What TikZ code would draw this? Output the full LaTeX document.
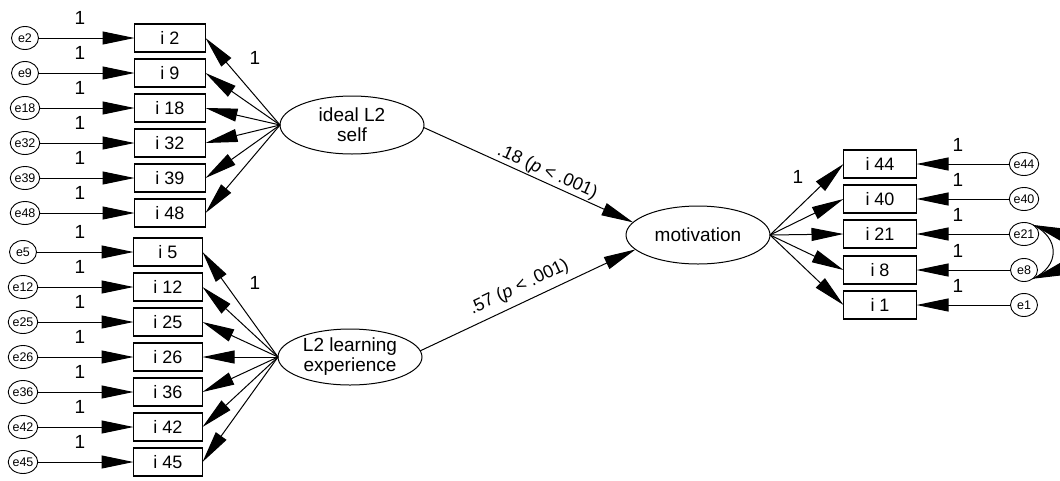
\documentclass[tikz,border=0pt]{standalone}
\usepackage{fontspec}
\setmainfont{Liberation Sans}
\usetikzlibrary{shapes.geometric,arrows.meta,calc}
\begin{document}
\begin{tikzpicture}[x=1pt,y=-1pt,
  every node/.style={inner sep=0pt, outer sep=0pt},
  obs/.style={draw, line width=1.1pt, rectangle, minimum width=71pt, minimum height=28pt,
    font=\fontsize{18}{20}\selectfont},
  lat/.style={draw, line width=1pt, ellipse, minimum width=144pt, minimum height=58pt,
    align=center, font=\fontsize{19}{20}\selectfont},
  err/.style={draw, line width=0.9pt, ellipse, minimum width=27pt, minimum height=23pt,
    font=\fontsize{12.5}{13}\selectfont},
  tip/.tip={Triangle[length=32pt,width=13pt]},
  arr/.style={-tip, line width=1pt},
  one/.style={font=\fontsize{19}{20}\selectfont},
  coef/.style={font=\fontsize{18}{20}\selectfont, sloped, above=2pt}
]
\useasboundingbox (0,0) rectangle (1060,480);

% latent variables
\node[lat] (ideal) at (352,125) {ideal L2\\self};
\node[lat, minimum height=56pt] (learn) at (350,357) {L2 learning\\experience};
\node[lat] (motiv) at (698,235) {motivation};

% ideal L2 self indicators
\foreach \n/\y in {2/38, 9/73, 18/108, 32/143, 39/178, 48/213} {
  \node[obs] (i\n) at (170,\y) {i \n};
  \node[err] (e\n) at (25,\y) {e\n};
  \node[one] (w\n) at (80,{\y-20}) {1};
  \draw[arr] (e\n) -- (i\n);
  \draw[arr] (ideal.west) -- (i\n.east);
}
\node[one] (wideal) at (255,58) {1};

% L2 learning experience indicators
\foreach \n/\y in {5/252, 12/287, 25/322, 26/357, 36/392, 42/427, 45/462} {
  \node[obs, minimum width=69pt] (i\n) at (168,\y) {i \n};
  \node[err] (e\n) at (23,\y) {e\n};
  \node[one] (w\n) at (80,{\y-20}) {1};
  \draw[arr] (e\n) -- (i\n);
  \draw[arr] (learn.west) -- (i\n.east);
}
\node[one] (wlearn) at (255,283) {1};

% motivation indicators
\foreach \n/\y in {44/164, 40/199, 21/234, 8/270, 1/305} {
  \node[obs, minimum width=73pt] (i\n) at (880,\y) {i \n};
  \node[err] (e\n) at (1024,\y) {e\n};
  \node[one] (w\n) at (958,{\y-19}) {1};
  \draw[arr] (e\n) -- (i\n);
  \draw[arr] (motiv.east) -- (i\n.west);
}
\node[one] (wmotiv) at (798,177) {1};

% error covariance between e21 and e8
\draw[line width=1pt] (e21.45) .. controls (1060,238) and (1060,266) .. (e8.-45);
\coordinate (cova) at ($(e21.45)+(30,10)$);
\coordinate (covb) at ($(e8.-45)+(30,-10)$);
\draw[arr] (cova) -- (e21.45);
\draw[arr] (covb) -- (e8.-45);

% structural paths
\draw[arr] (ideal.-2) -- node[coef, pos=0.57] {.18 (\textit{p} < .001)} (motiv.169);
\draw[arr] (learn.5) -- node[coef, pos=0.49, above=5pt] {.57 (\textit{p} < .001)} (motiv.193);
\end{tikzpicture}
\end{document}
